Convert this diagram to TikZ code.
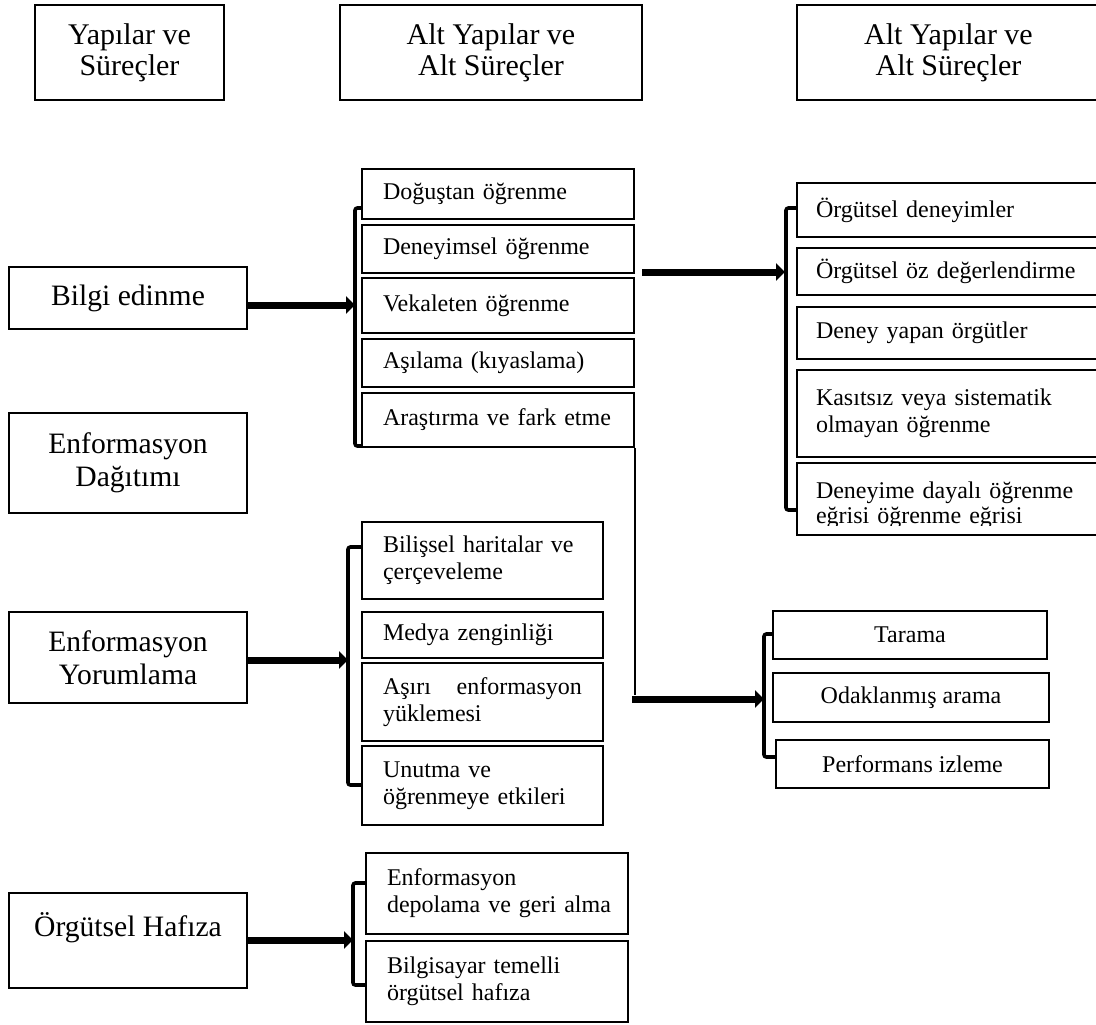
\documentclass[tikz,border=0pt]{standalone}
\usepackage{fontspec}
\setmainfont{Liberation Serif}
\usetikzlibrary{arrows.meta,calc}

\tikzset{
  box/.style={draw, line width=1pt, inner sep=0pt},
  small/.style={font=\fontsize{12}{13.5}\selectfont},
  big/.style={font=\fontsize{14.8}{16.5}\selectfont},
  headbox/.style={box, align=center, font=\fontsize{15}{15.5}\selectfont, minimum height=47.5pt},
  leftbox/.style={box, big, align=center, minimum width=119pt},
  % boxes with left-aligned text and a fixed inner margin
  listbox/.style 2 args={box, small, align=left, minimum width=#1, text width=#2},
  midA/.style={listbox={136pt}{115pt}},
  midB/.style={listbox={120.5pt}{99.5pt}},
  midE/.style={listbox={131pt}{110pt}},
  rightC/.style={listbox={151.5pt}{132.5pt}},
  scanbox/.style={box, small, align=center},
  brk/.style={line width=1.8pt, rounded corners=1.2pt},
  fatarrow/.style={line width=3.5pt, -{Triangle[length=4.5pt,width=8.5pt]}},
  thinline/.style={line width=1.2pt}
}

\begin{document}
\begin{tikzpicture}[x=0.5pt, y=-0.5pt]
\useasboundingbox (0,0) rectangle (1096,1024);

% column headings
\node[headbox, minimum width=94.5pt] (h1) at (129.5,52.5) {Yapılar ve\\Süreçler};
\node[headbox, minimum width=151pt] (h2) at (491,52.5) {Alt Yapılar ve\\Alt Süreçler};
\node[headbox, minimum width=151.5pt] (h3) at (948.5,52.5) {Alt Yapılar ve\\Alt Süreçler};

% structures and processes
\node[leftbox, minimum height=31pt] (l1) at (128,298) {\raisebox{-1.5pt}{Bilgi edinme}};
\node[leftbox, minimum height=50pt] (l2) at (128,463) {Enformasyon\\Dağıtımı};
\node[leftbox, minimum height=45.5pt] (l3) at (128,657.5) {Enformasyon\\Yorumlama};
\node[leftbox, minimum height=47.5pt] (l4) at (128,940.5) {Örgütsel Hafıza\\\mbox{}};

% knowledge acquisition
\node[midA, minimum height=25pt] (a1) at (498,194) {Doğuştan öğrenme};
\node[midA, minimum height=24pt] (a2) at (498,249) {Deneyimsel öğrenme};
\node[midA, minimum height=27.5pt] (a3) at (498,305.5) {Vekaleten öğrenme};
\node[midA, minimum height=24pt] (a4) at (498,363) {Aşılama (kıyaslama)};
\node[midA, minimum height=27pt] (a5) at (498,420) {Araştırma ve fark etme};

% information interpretation
\node[midB, minimum height=38.5pt] (b1) at (482.5,560.5) {Bilişsel haritalar ve\\çerçeveleme};
\node[midB, minimum height=23pt] (b2) at (482.5,635) {Medya zenginliği};
\node[midB, minimum height=39pt] (b3) at (482.5,702) {Aşırı\hfill enformasyon\\yüklemesi};
\node[midB, minimum height=39.5pt] (b4) at (482.5,785.5) {Unutma ve\\öğrenmeye etkileri};

% organisational memory
\node[midE, minimum height=40.5pt] (e1) at (497,893.5) {Enformasyon\\\mbox{depolama ve geri alma}};
\node[midE, minimum height=40.5pt] (e2) at (497,981.5) {Bilgisayar temelli\\örgütsel hafıza};

% experiential learning
\node[rightC, minimum height=27pt] (c1) at (948.5,210) {Örgütsel deneyimler};
\node[rightC, minimum height=23.5pt] (c2) at (948.5,271.5) {Örgütsel öz değerlendirme};
\node[rightC, minimum height=26pt] (c3) at (948.5,333) {Deney yapan örgütler};
\node[rightC, minimum height=43.5pt] (c4) at (948.5,413.5) {Kasıtsız veya sistematik\\olmayan öğrenme};
\node[box, minimum width=151.5pt, minimum height=36pt] (c5) at (948.5,499) {};
\begin{scope}
  \clip (797,463) rectangle (1100,525);
  \node[small, align=left, text width=132.5pt, inner sep=0pt, font=\fontsize{12}{12.5}\selectfont] (c5text) at (948.5,505) {Deneyime dayalı öğrenme\\eğrisi öğrenme eğrisi};
\end{scope}

% searching and noticing
\node[scanbox, minimum width=137pt, minimum height=24pt] (d1) at (910,635) {Tarama};
\node[scanbox, minimum width=138pt, minimum height=24.5pt] (d2) at (911,697.5) {Odaklanmış arama};
\node[scanbox, minimum width=136.5pt, minimum height=24pt] (d3) at (912.5,764) {Performans izleme};

% brackets
\coordinate (tA) at (355,208);  \coordinate (bA) at (355,446);
\coordinate (tB) at (348,547);  \coordinate (bB) at (348,785);
\coordinate (tE) at (353,883);  \coordinate (bE) at (353,985);
\coordinate (tC) at (786,208);  \coordinate (bC) at (786,510);
\coordinate (tD) at (764,634);  \coordinate (bD) at (764,757);
\draw[brk] (a1.west |- tA) -- (tA) -- (bA) -- (a5.west |- bA);
\draw[brk] (b1.west |- tB) -- (tB) -- (bB) -- (b4.west |- bB);
\draw[brk] (e1.west |- tE) -- (tE) -- (bE) -- (e2.west |- bE);
\draw[brk] (c1.west |- tC) -- (tC) -- (bC) -- (c5.west |- bC);
\draw[brk] (d1.west |- tD) -- (tD) -- (bD) -- (d3.west |- bD);

% arrows into the brackets
\coordinate (hA) at (355,305);
\coordinate (hB) at (348,660);
\coordinate (hE) at (353,940);
\coordinate (sC) at (642,272);
\coordinate (hC) at (785,272);
\coordinate (sD) at (632,699);
\coordinate (hD) at (764,699);
\draw[fatarrow] (l1.east |- hA) -- (hA);
\draw[fatarrow] (l3.east |- hB) -- (hB);
\draw[fatarrow] (l4.east |- hE) -- (hE);
\draw[fatarrow] (sC) -- (hC);
\draw[thinline] (a5.south east) -- (a5.south east |- 0,695);
\draw[fatarrow] (sD) -- (hD);
\end{tikzpicture}
\end{document}
